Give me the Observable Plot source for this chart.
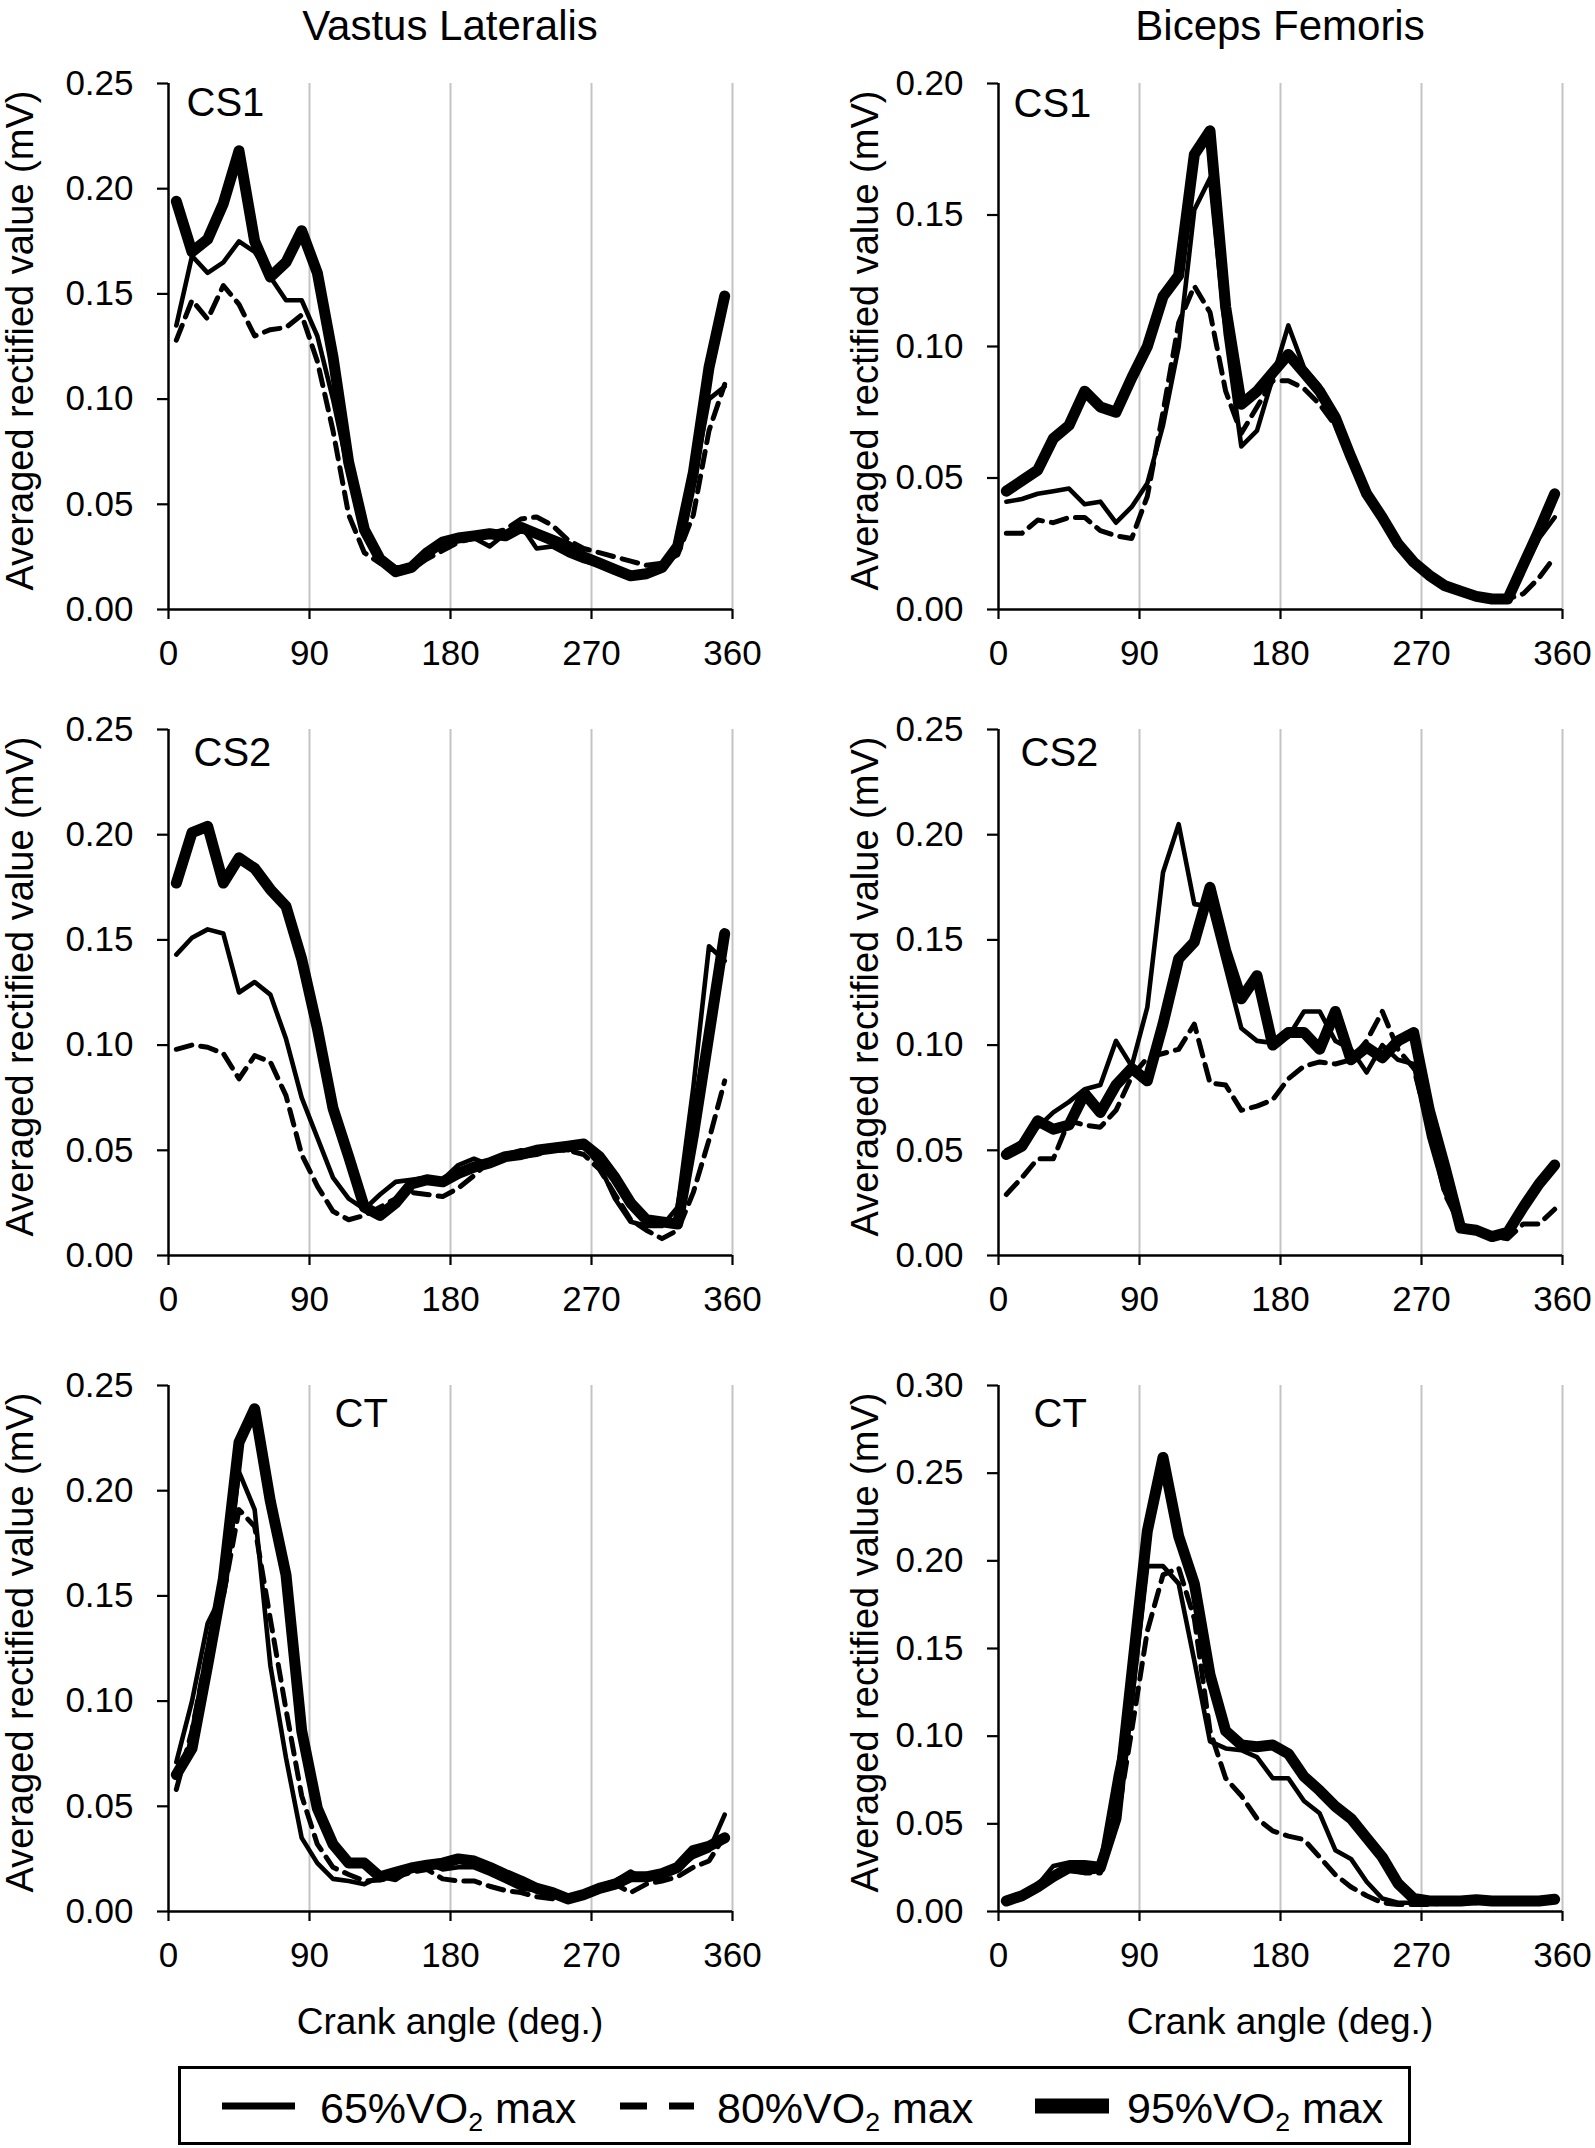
<!DOCTYPE html>
<html>
<head>
<meta charset="utf-8">
<script src="https://cdn.jsdelivr.net/npm/d3@7"></script>
<script src="https://cdn.jsdelivr.net/npm/@observablehq/plot@0.6"></script>
<style>
  html, body { margin: 0; padding: 0; background: #fff; }
  #fig { position: relative; width: 1595px; height: 2148px; background: #fff; overflow: hidden;
         font-family: "Liberation Sans", Arial, Helvetica, sans-serif; color: #000; }
  .panel { position: absolute; }
  .txt { position: absolute; white-space: nowrap; line-height: 1; }
  .center { transform: translateX(-50%); }
  .sub { position: relative; top: 0.3em; font-size: 0.62em; }
  #legendBox { position: absolute; box-sizing: border-box; border: 3px solid #000; }
</style>
</head>
<body>
<div id="fig"></div>
<script>
// ---------------- data ----------------
const angle = [5,15,25,35,45,55,65,75,85,95,105,115,125,135,145,155,165,175,185,195,205,215,225,235,245,255,265,275,285,295,305,315,325,335,345,355];
const xTicks = [0, 90, 180, 270, 360];
const gridAngles = [90, 180, 270, 360];
const yTicks020 = [0, 0.05, 0.10, 0.15, 0.20];
const yTicks025 = [0, 0.05, 0.10, 0.15, 0.20, 0.25];
const yTicks030 = [0, 0.05, 0.10, 0.15, 0.20, 0.25, 0.30];
const muscles = ["Vastus Lateralis", "Biceps Femoris"];
const conditions = ["CS1", "CS2", "CT"];
const intensities = ["65%VO", "80%VO", "95%VO"];
const yLabel = "Averaged rectified value (mV)";
const xLabel = "Crank angle (deg.)";

// Vastus Lateralis – CS1
const vlCS1_65 = [0.135,0.168,0.160,0.165,0.175,0.170,0.158,0.147,0.147,0.130,0.100,0.065,0.035,0.025,0.020,0.020,0.026,0.031,0.033,0.034,0.030,0.036,0.040,0.029,0.030,0.026,0.023,0.021,0.018,0.017,0.018,0.021,0.030,0.060,0.100,0.106];
const vlCS1_80 = [0.128,0.147,0.138,0.154,0.145,0.130,0.133,0.134,0.140,0.118,0.085,0.045,0.027,0.022,0.019,0.019,0.024,0.028,0.032,0.034,0.036,0.038,0.043,0.044,0.040,0.033,0.029,0.027,0.025,0.023,0.021,0.022,0.026,0.045,0.085,0.107];
const vlCS1_95 = [0.194,0.170,0.176,0.193,0.218,0.175,0.158,0.165,0.180,0.160,0.120,0.070,0.038,0.024,0.018,0.020,0.027,0.032,0.034,0.035,0.036,0.035,0.039,0.036,0.033,0.030,0.025,0.022,0.019,0.016,0.017,0.020,0.030,0.065,0.115,0.149];
// Biceps Femoris – CS1
const bfCS1_65 = [0.041,0.042,0.044,0.045,0.046,0.040,0.041,0.033,0.039,0.048,0.070,0.100,0.152,0.164,0.105,0.062,0.068,0.088,0.108,0.092,0.085,0.072,0.060,0.045,0.034,0.025,0.018,0.013,0.009,0.007,0.005,0.004,0.005,0.015,0.027,0.035];
const bfCS1_80 = [0.029,0.029,0.034,0.033,0.035,0.035,0.030,0.028,0.027,0.043,0.075,0.109,0.123,0.113,0.083,0.067,0.077,0.087,0.087,0.084,0.078,0.070,0.057,0.044,0.034,0.025,0.018,0.013,0.009,0.007,0.005,0.004,0.004,0.006,0.012,0.020];
const bfCS1_95 = [0.045,0.049,0.053,0.065,0.070,0.083,0.077,0.075,0.088,0.100,0.119,0.127,0.173,0.182,0.115,0.078,0.083,0.090,0.097,0.090,0.083,0.073,0.058,0.044,0.035,0.025,0.018,0.013,0.009,0.007,0.005,0.004,0.004,0.017,0.030,0.044];
// Vastus Lateralis – CS2
const vlCS2_65 = [0.143,0.151,0.155,0.153,0.125,0.130,0.124,0.103,0.075,0.056,0.037,0.027,0.022,0.029,0.035,0.036,0.037,0.036,0.043,0.046,0.043,0.048,0.050,0.049,0.052,0.050,0.052,0.043,0.027,0.016,0.014,0.014,0.023,0.080,0.147,0.140];
const vlCS2_80 = [0.098,0.100,0.099,0.096,0.084,0.095,0.092,0.076,0.048,0.033,0.021,0.017,0.019,0.023,0.027,0.030,0.029,0.028,0.032,0.038,0.045,0.048,0.047,0.048,0.050,0.050,0.048,0.041,0.029,0.017,0.012,0.008,0.012,0.030,0.055,0.083];
const vlCS2_95 = [0.177,0.201,0.204,0.177,0.189,0.184,0.174,0.166,0.141,0.108,0.070,0.047,0.023,0.019,0.025,0.034,0.036,0.035,0.039,0.042,0.044,0.047,0.048,0.050,0.051,0.052,0.053,0.047,0.037,0.025,0.017,0.016,0.015,0.057,0.105,0.153];
// Biceps Femoris – CS2
const bfCS2_65 = [0.050,0.054,0.061,0.068,0.073,0.079,0.081,0.102,0.090,0.118,0.182,0.205,0.167,0.166,0.137,0.108,0.102,0.101,0.104,0.116,0.116,0.102,0.098,0.087,0.100,0.093,0.091,0.056,0.030,0.015,0.012,0.010,0.010,0.021,0.036,0.043];
const bfCS2_80 = [0.029,0.037,0.046,0.046,0.064,0.062,0.061,0.069,0.085,0.094,0.096,0.098,0.110,0.082,0.081,0.069,0.071,0.074,0.084,0.090,0.092,0.091,0.093,0.102,0.116,0.098,0.089,0.060,0.029,0.014,0.012,0.009,0.008,0.015,0.015,0.022];
const bfCS2_95 = [0.048,0.052,0.064,0.060,0.062,0.077,0.068,0.081,0.089,0.083,0.110,0.141,0.149,0.175,0.145,0.122,0.133,0.100,0.106,0.106,0.098,0.116,0.093,0.099,0.094,0.102,0.106,0.069,0.042,0.013,0.012,0.009,0.011,0.023,0.034,0.043];
// Vastus Lateralis – CT
const vlCT_65 = [0.071,0.100,0.137,0.152,0.209,0.191,0.117,0.073,0.035,0.023,0.0155,0.0145,0.013,0.0165,0.015,0.020,0.023,0.020,0.021,0.021,0.018,0.0145,0.011,0.010,0.009,0.007,0.009,0.012,0.0145,0.019,0.015,0.0165,0.020,0.026,0.029,0.046];
const vlCT_80 = [0.058,0.086,0.125,0.150,0.191,0.183,0.139,0.096,0.055,0.032,0.021,0.0176,0.0145,0.015,0.0165,0.0186,0.020,0.0155,0.0145,0.0145,0.012,0.010,0.009,0.007,0.006,0.007,0.009,0.011,0.013,0.009,0.013,0.0145,0.0165,0.021,0.024,0.036];
const vlCT_95 = [0.065,0.0775,0.117,0.158,0.223,0.239,0.195,0.160,0.086,0.049,0.032,0.023,0.023,0.0165,0.0186,0.0207,0.022,0.023,0.025,0.024,0.021,0.0176,0.0145,0.011,0.009,0.006,0.008,0.011,0.013,0.0165,0.0165,0.018,0.021,0.029,0.031,0.035];
// Biceps Femoris – CT
const bfCT_65 = [0.007,0.009,0.015,0.026,0.028,0.028,0.027,0.078,0.120,0.197,0.197,0.187,0.143,0.097,0.093,0.092,0.088,0.076,0.076,0.063,0.056,0.035,0.030,0.017,0.0074,0.005,0.005,0.005,0.005,0.0057,0.0067,0.0057,0.0057,0.006,0.006,0.007];
const bfCT_80 = [0.007,0.009,0.014,0.019,0.024,0.022,0.022,0.048,0.103,0.160,0.192,0.196,0.167,0.103,0.076,0.066,0.053,0.046,0.043,0.041,0.031,0.021,0.014,0.009,0.005,0.004,0.004,0.004,0.005,0.005,0.005,0.005,0.005,0.006,0.006,0.007];
const bfCT_95 = [0.006,0.009,0.014,0.020,0.025,0.024,0.025,0.053,0.135,0.217,0.259,0.214,0.187,0.135,0.103,0.095,0.094,0.095,0.090,0.077,0.069,0.060,0.053,0.042,0.031,0.016,0.0074,0.006,0.006,0.006,0.0067,0.006,0.006,0.006,0.006,0.007];

// ---------------- drawing ----------------
const FONT = '"Liberation Sans", Arial, Helvetica, sans-serif';
const fig = document.getElementById("fig");
const rows = s => angle.map((a, i) => ({angle: a, value: s[i]}));

const LEFT = {left: 0, width: 780, ml: 168, mr: 48, yLabelDx: -148};
const RIGHT = {left: 800, width: 795, ml: 198, mr: 33, yLabelDx: -133};
const rowTops = [0, 646, 1302];

function panel(col, rowTop, yTicks, s65, s80, s95, tag, tagDx, tagDy) {
  const ymax = yTicks[yTicks.length - 1];
  const p = Plot.plot({
    width: col.width, height: 680,
    marginLeft: col.ml, marginRight: col.mr, marginTop: 83, marginBottom: 71,
    x: {domain: [0, 360]},
    y: {domain: [0, ymax]},
    style: {fontFamily: FONT, fontSize: "35px", color: "#000", background: "transparent", overflow: "visible"},
    marks: [
      Plot.gridX(gridAngles, {stroke: "#c4c4c4", strokeOpacity: 1, strokeWidth: 2}),
      Plot.axisX(xTicks, {tickSize: 10, tickPadding: 21, strokeWidth: 2.2, fontSize: 35, label: null}),
      Plot.axisY(yTicks, {tickSize: 11, tickPadding: 24, strokeWidth: 2.2, fontSize: 35, tickFormat: d3.format(".2f"), label: null}),
      Plot.ruleY([0], {stroke: "#000", strokeWidth: 2.5}),
      Plot.ruleX([0], {stroke: "#000", strokeWidth: 2.5}),
      Plot.line(rows(s80), {x: "angle", y: "value", stroke: "#000", strokeWidth: 5, strokeDasharray: "16,9", strokeLinejoin: "round"}),
      Plot.line(rows(s65), {x: "angle", y: "value", stroke: "#000", strokeWidth: 4.6, strokeLinejoin: "round"}),
      Plot.line(rows(s95), {x: "angle", y: "value", stroke: "#000", strokeWidth: 11, strokeLinejoin: "round", strokeLinecap: "round"}),
      Plot.text([tag], {text: d => d, frameAnchor: "top-left", textAnchor: "start", lineAnchor: "top", dx: tagDx, dy: tagDy, fontSize: 40, fill: "#000"}),
      Plot.text([yLabel], {text: d => d, frameAnchor: "left", rotate: -90, textAnchor: "middle", lineAnchor: "middle", dx: col.yLabelDx, dy: -6, fontSize: 38, fill: "#000"})
    ]
  });
  const div = document.createElement("div");
  div.className = "panel";
  div.style.left = col.left + "px";
  div.style.top = rowTop + "px";
  div.appendChild(p);
  fig.appendChild(div);
}

panel(LEFT,  rowTops[0], yTicks025, vlCS1_65, vlCS1_80, vlCS1_95, conditions[0], 18, 4);
panel(RIGHT, rowTops[0], yTicks020, bfCS1_65, bfCS1_80, bfCS1_95, conditions[0], 15, 5);
panel(LEFT,  rowTops[1], yTicks025, vlCS2_65, vlCS2_80, vlCS2_95, conditions[1], 25, 8);
panel(RIGHT, rowTops[1], yTicks025, bfCS2_65, bfCS2_80, bfCS2_95, conditions[1], 22, 8);
panel(LEFT,  rowTops[2], yTicks025, vlCT_65, vlCT_80, vlCT_95, conditions[2], 166, 13);
panel(RIGHT, rowTops[2], yTicks030, bfCT_65, bfCT_80, bfCT_95, conditions[2], 35, 13);

// column titles and axis titles
function addText(html, left, top, size, centered) {
  const d = document.createElement("div");
  d.className = "txt" + (centered ? " center" : "");
  d.style.left = left + "px";
  d.style.top = top + "px";
  d.style.fontSize = size + "px";
  d.innerHTML = html;
  fig.appendChild(d);
  return d;
}
addText(muscles[0], 450, 5, 42, true);
addText(muscles[1], 1280, 5, 42, true);
addText(xLabel, 450, 2003, 37, true);
addText(xLabel, 1280, 2003, 37, true);

// legend
const box = document.createElement("div");
box.id = "legendBox";
box.style.left = "178px"; box.style.top = "2066px";
box.style.width = "1233px"; box.style.height = "79px";
fig.appendChild(box);

const ns = "http://www.w3.org/2000/svg";
const lsvg = document.createElementNS(ns, "svg");
lsvg.setAttribute("width", 1595); lsvg.setAttribute("height", 2148);
lsvg.style.position = "absolute"; lsvg.style.left = "0"; lsvg.style.top = "0";
const samples = [
  {x1: 222, x2: 295, w: 7, dash: null},
  {x1: 620, x2: 694, w: 7, dash: "27,22"},
  {x1: 1035, x2: 1109, w: 15, dash: null}
];
samples.forEach(s => {
  const l = document.createElementNS(ns, "line");
  l.setAttribute("x1", s.x1); l.setAttribute("x2", s.x2);
  l.setAttribute("y1", 2106); l.setAttribute("y2", 2106);
  l.setAttribute("stroke", "#000"); l.setAttribute("stroke-width", s.w);
  if (s.dash) l.setAttribute("stroke-dasharray", s.dash);
  lsvg.appendChild(l);
});
fig.appendChild(lsvg);
const legendX = [320, 717, 1127];
intensities.forEach((t, i) => addText(t + '<span class="sub">2</span> max', legendX[i], 2087, 43, false));
</script>
</body>
</html>
